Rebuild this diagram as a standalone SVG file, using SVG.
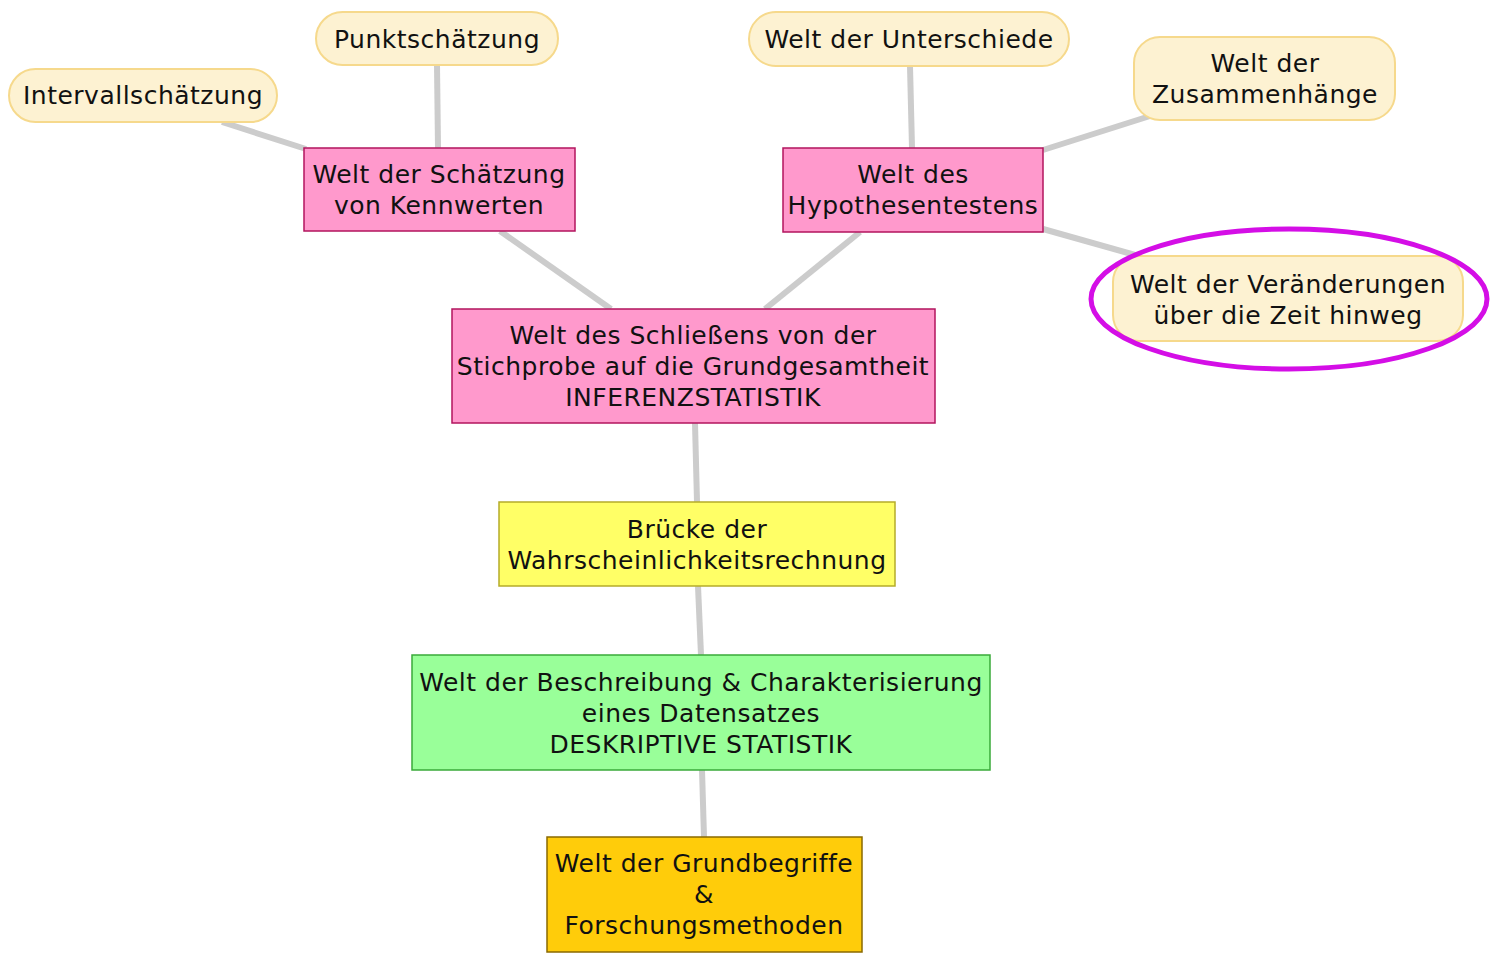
<svg xmlns="http://www.w3.org/2000/svg" width="1495" height="970" viewBox="0 0 1495 970">
<style>
text{font-family:"DejaVu Sans","Noto Sans",sans-serif;font-size:25px;letter-spacing:0.5px;fill:#111;text-anchor:middle}
.pill{fill:#fdf2d2;stroke:#f6d98c;stroke-width:2}
.pink{fill:#ff99cc;stroke:#b3155e;stroke-width:1.5}
.yel{fill:#ffff66;stroke:#b5ac2a;stroke-width:1.5}
.grn{fill:#99ff99;stroke:#3aaa3a;stroke-width:1.5}
.org{fill:#ffcc0a;stroke:#8a6a00;stroke-width:1.5}
.con line{stroke:#cccccc;stroke-width:6;stroke-linecap:butt}
</style>
<rect width="1495" height="970" fill="#ffffff"/>
<g class="con" id="connectors">
<line x1="222" y1="122" x2="306" y2="149"/>
<line x1="437" y1="65" x2="438" y2="148"/>
<line x1="500" y1="231" x2="611" y2="309"/>
<line x1="860" y1="232" x2="765" y2="309"/>
<line x1="910" y1="66" x2="912" y2="148"/>
<line x1="1150" y1="116" x2="1043" y2="150"/>
<line x1="1043" y1="229" x2="1135" y2="255"/>
<line x1="695" y1="423" x2="697" y2="502"/>
<line x1="698" y1="586" x2="701" y2="655"/>
<line x1="702" y1="770" x2="704" y2="837"/>
</g>
<g id="intervall"><rect class="pill" x="9" y="69" width="268" height="53" rx="26.5"/><text x="143" y="104">Intervallschätzung</text></g>
<g id="punkt"><rect class="pill" x="316" y="12" width="242" height="53" rx="26.5"/><text x="437" y="48">Punktschätzung</text></g>
<g id="unterschiede"><rect class="pill" x="749" y="12" width="320" height="54" rx="27"/><text x="909" y="48">Welt der Unterschiede</text></g>
<g id="zusammenhaenge"><rect class="pill" x="1134" y="37" width="261" height="83" rx="26"/><text x="1265" y="72">Welt der</text><text x="1265" y="103">Zusammenhänge</text></g>
<g id="veraenderungen"><rect class="pill" x="1113" y="256" width="350" height="85" rx="26"/><text x="1288" y="293">Welt der Veränderungen</text><text x="1288" y="324">über die Zeit hinweg</text><ellipse cx="1289" cy="299" rx="198" ry="70" fill="none" stroke="#d40ee6" stroke-width="5"/></g>
<g id="schaetzung"><rect class="pink" x="304" y="148" width="271" height="83"/><text x="439" y="183">Welt der Schätzung</text><text x="439" y="214">von Kennwerten</text></g>
<g id="hypothesen"><rect class="pink" x="783" y="148" width="260" height="84"/><text x="913" y="183">Welt des</text><text x="913" y="214">Hypothesentestens</text></g>
<g id="inferenz"><rect class="pink" x="452" y="309" width="483" height="114"/><text x="693" y="344">Welt des Schließens von der</text><text x="693" y="375">Stichprobe auf die Grundgesamtheit</text><text x="693" y="406">INFERENZSTATISTIK</text></g>
<g id="bruecke"><rect class="yel" x="499" y="502" width="396" height="84"/><text x="697" y="538">Brücke der</text><text x="697" y="569">Wahrscheinlichkeitsrechnung</text></g>
<g id="deskriptiv"><rect class="grn" x="412" y="655" width="578" height="115"/><text x="701" y="691">Welt der Beschreibung &amp; Charakterisierung</text><text x="701" y="722">eines Datensatzes</text><text x="701" y="753">DESKRIPTIVE STATISTIK</text></g>
<g id="grund"><rect class="org" x="547" y="837" width="315" height="115"/><text x="704" y="872">Welt der Grundbegriffe</text><text x="704" y="903">&amp;</text><text x="704" y="934">Forschungsmethoden</text></g>
</svg>
